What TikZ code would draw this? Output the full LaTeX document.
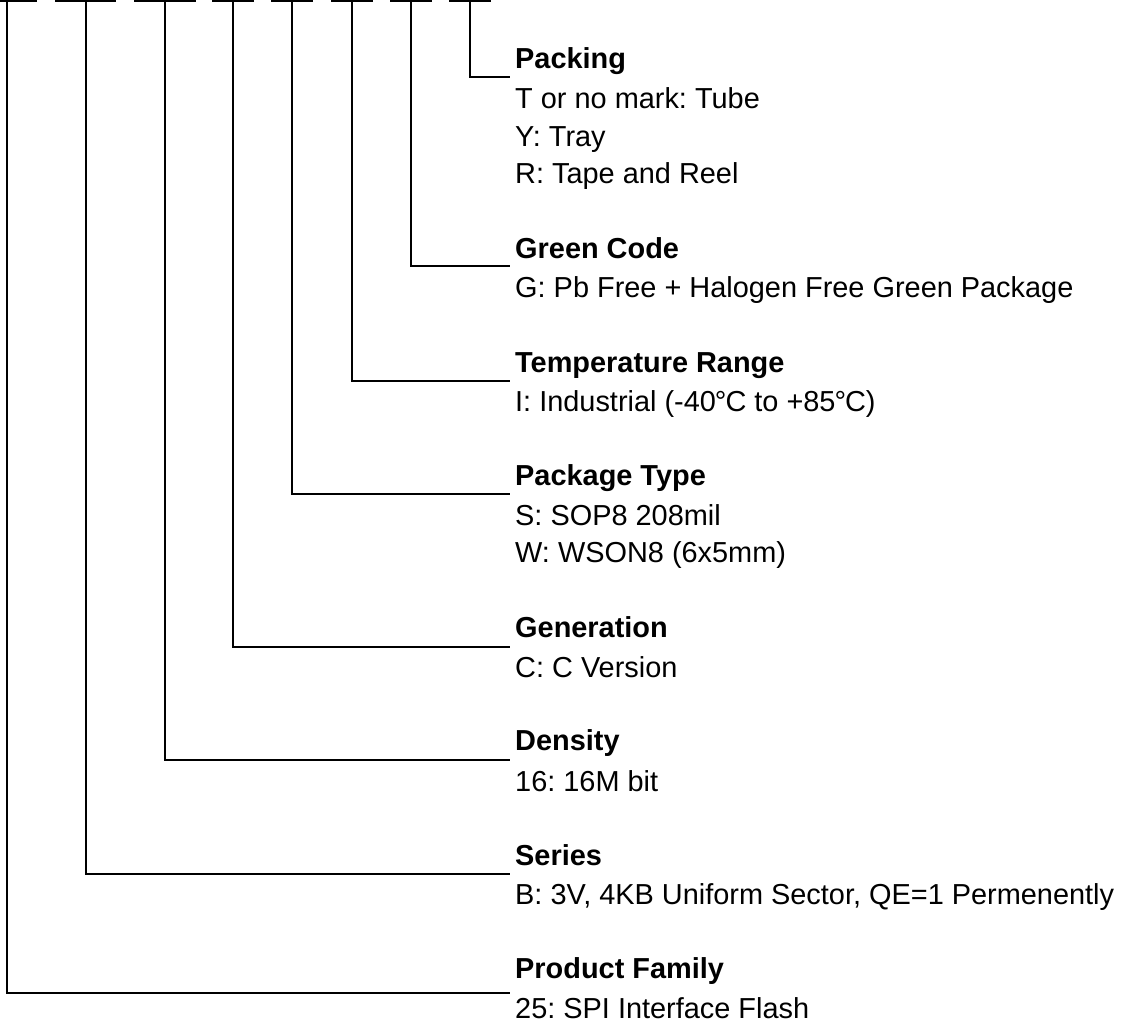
\documentclass[tikz,border=0pt]{standalone}
\usepackage{fontspec}
\setmainfont{Liberation Sans}
\usetikzlibrary{positioning}
\frenchspacing

\begin{document}
\begin{tikzpicture}[x=1pt, y=-1pt,
          lead/.style={line width=1.9pt, black},
          title/.style={anchor=base west, inner sep=0pt, font=\fontsize{28.9}{34}\selectfont\bfseries},
          desc/.style={anchor=base west, inner sep=0pt, font=\fontsize{28.9}{34}\selectfont}]
        \useasboundingbox (0,0) rectangle (1124,1028);
        % code field marks along the top
        \coordinate (d1) at (7,1);
        \coordinate (d2) at (86,1);
        \coordinate (d3) at (165,1);
        \coordinate (d4) at (233,1);
        \coordinate (d5) at (292,1);
        \coordinate (d6) at (352,1);
        \coordinate (d7) at (411,1);
        \coordinate (d8) at (470,1);
        \draw[lead] (0,1) -- (37,1) (55,1) -- (116,1) (134,1) -- (196,1) (212,1) -- (254,1);
        \draw[lead] (271,1) -- (313,1) (331,1) -- (373,1) (390,1) -- (432,1) (449,1) -- (491,1);
        % field descriptions
        \node[title] (pack) at (515,68) {Packing};
        \node[desc] (pack1) at (515,108) {T or no mark: Tube};
        \node[desc] (pack2) at (515,146) {Y: Tray};
        \node[desc] (pack3) at (515,183) {R: Tape and Reel};
        \node[title] (green) at (515,258) {Green Code};
        \node[desc] (green1) at (515,297) {G: Pb Free + Halogen Free Green Package};
        \node[title] (temp) at (515,372) {Temperature Range};
        \node[desc] (temp1) at (515,411) {I: Industrial (-40\kern-1pt°\kern-1pt C to +85\kern-1pt°\kern-1pt C)};
        \node[title] (pkg) at (515,485) {Package Type};
        \node[desc] (pkg1) at (515,525) {S: SOP8 208mil};
        \node[desc] (pkg2) at (515,562) {W: WSON8 (6x5mm)};
        \node[title] (gen) at (515,637) {Generation};
        \node[desc] (gen1) at (515,677) {C: C Version};
        \node[title] (dens) at (515,750) {Density};
        \node[desc] (dens1) at (515,791) {16: 16M bit};
        \node[title] (ser) at (515,865) {Series};
        \node[desc] (ser1) at (515,904) {B: 3V, 4KB Uniform Sector, QE=1 Permenently};
        \node[title] (fam) at (515,978) {Product Family};
        \node[desc] (fam1) at (515,1018) {25: SPI Interface Flash};
        % leader ends
        \coordinate (e8) at (510,77);
        \coordinate (e7) at (510,266);
        \coordinate (e6) at (510,381);
        \coordinate (e5) at (510,494);
        \coordinate (e4) at (510,647);
        \coordinate (e3) at (510,760);
        \coordinate (e2) at (510,874);
        \coordinate (e1) at (510,993);
        \draw[lead] (d8) |- (e8);
        \draw[lead] (d7) |- (e7);
        \draw[lead] (d6) |- (e6);
        \draw[lead] (d5) |- (e5);
        \draw[lead] (d4) |- (e4);
        \draw[lead] (d3) |- (e3);
        \draw[lead] (d2) |- (e2);
        \draw[lead] (d1) |- (e1);
      \end{tikzpicture}
\end{document}
